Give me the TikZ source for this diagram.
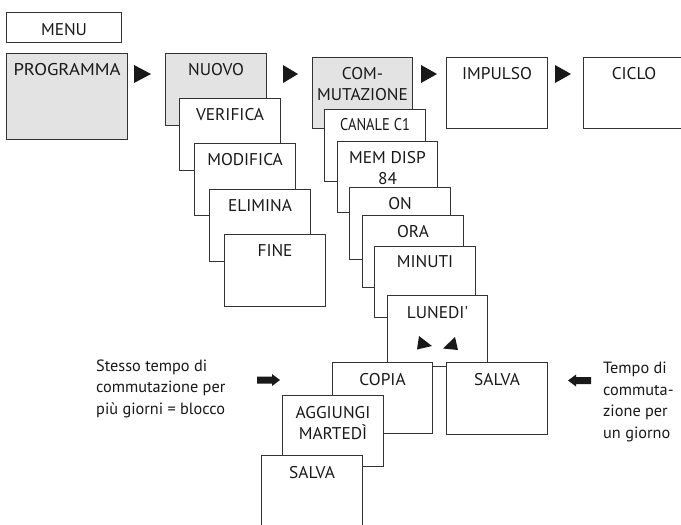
\documentclass[tikz,border=0pt]{standalone}
\usepackage{fontspec}
\setmainfont{PT Sans}
\newfontfamily\lblfont[FakeStretch=1.02]{PT Sans}
\newfontfamily\widefont[FakeStretch=1.1]{PT Sans}
\newfontfamily\condfont[FakeStretch=0.85]{PT Sans}
\usetikzlibrary{calc}
\begin{document}
\begin{tikzpicture}[x=1pt,y=-1pt,
 box/.style={draw=black!80, line width=1.1pt, fill=white, minimum width=101pt, minimum height=72pt, inner sep=0pt, anchor=north west},
 graybox/.style={box, fill=black!11},
 lbl/.style={anchor=north, inner sep=0pt, align=center, font=\lblfont\fontsize{17}{21.5}\selectfont, text=black!90},
 desc/.style={anchor=north west, inner sep=0pt, align=left, font=\fontsize{16.3}{21.6}\selectfont, text=black!90},
 tri/.style={fill=black!90},
]
\clip (0,0) rectangle (681,525);
% MENU and PROGRAMMA
\node[box, minimum width=115pt, minimum height=30pt] (menu) at (6,12) {};
\node[lbl] (tmenu) at ($(menu.north)+(0,11)$) {MENU};
\node[graybox, minimum width=121pt, minimum height=86pt] (prog) at (6,53) {};
\node[lbl, font=\widefont\fontsize{17}{21.5}\selectfont] (tprog) at ($(prog.north)+(0,10)$) {PROGRAMMA};
% NUOVO chain
\node[graybox] (nuovo) at (165,53) {};
\node[lbl] (tnuovo) at ($(nuovo.north)+(0,10)$) {NUOVO};
\node[box] (verif) at (179,98) {};
\node[lbl] (tverif) at ($(verif.north)+(0,10)$) {VERIFICA};
\node[box] (modif) at (194,143) {};
\node[lbl] (tmodif) at ($(modif.north)+(0,10.5)$) {MODIFICA};
\node[box] (elim) at (209,189) {};
\node[lbl] (telim) at ($(elim.north)+(0,10)$) {ELIMINA};
\node[box] (fine) at (224,234) {};
\node[lbl] (tfine) at ($(fine.north)+(0,10.5)$) {FINE};
% COMMUTAZIONE chain
\node[graybox, minimum width=100pt, minimum height=71pt] (comm) at (312,57) {};
\node[lbl] (tcomm) at ($(comm.north)+(0,10)$) {COM-\\MUTAZIONE};
\node[box, minimum height=71pt] (imp) at (446,57) {};
\node[lbl] (timp) at ($(imp.north)+(0,10)$) {IMPULSO};
\node[box, minimum height=71pt] (ciclo) at (583,57) {};
\node[lbl] (tciclo) at ($(ciclo.north)+(0,10)$) {CICLO};
\node[box] (canale) at (324,109) {};
\node[lbl, font=\condfont\fontsize{17}{21.5}\selectfont] (tcanale) at ($(canale.north)+(0,9.5)$) {CANALE C1};
\node[box, minimum width=100pt, minimum height=71pt] (mem) at (337,141) {};
\node[lbl] (tmem) at ($(mem.north)+(0,10)$) {MEM DISP\\84};
\node[box] (on) at (349,187) {};
\node[lbl] (ton) at ($(on.north)+(0,10)$) {ON};
\node[box] (ora) at (362,215) {};
\node[lbl] (tora) at ($(ora.north)+(0,10)$) {ORA};
\node[box, minimum height=71pt] (minuti) at (374,246) {};
\node[lbl] (tminuti) at ($(minuti.north)+(0,9.5)$) {MINUTI};
\node[box, minimum width=100pt, minimum height=71pt] (lunedi) at (387,295) {};
\node[lbl] (tlunedi) at ($(lunedi.north)+(0,11)$) {LUNEDI'};
\fill[tri] (419,336) -- (432,346) -- (417,349.5) -- cycle;
\fill[tri] (455,337) -- (458,350) -- (443,348.5) -- cycle;
\node[box, minimum width=100pt, minimum height=71pt] (copia) at (332,362) {};
\node[lbl] (tcopia) at ($(copia.north)+(0,11)$) {COPIA};
\node[box] (salva) at (446,362) {};
\node[lbl] (tsalva) at ($(salva.north)+(0,11)$) {SALVA};
\node[box, minimum height=71pt] (aggiungi) at (282,395) {};
\node[lbl] (taggiungi) at ($(aggiungi.north)+(0,11)$) {AGGIUNGI\\MARTEDÌ};
\node[box] (salvab) at (261,455) {};
\node[lbl] (tsalvab) at ($(salvab.north)+(0,11)$) {SALVA};
% triangles between top boxes
\fill[tri] (134,65) -- (151,74) -- (134,83) -- cycle;
\fill[tri] (283,65) -- (298,74) -- (283,83) -- cycle;
\fill[tri] (421,65) -- (437,74) -- (421,83) -- cycle;
\fill[tri] (555,65) -- (571,74) -- (555,83) -- cycle;
% descriptions
\node[desc] (dleft) at (96,359.5) {Stesso tempo di\\commutazione per\\più giorni = blocco};
\node[desc] (dright) at (603,362) {Tempo di\\commuta-\\zione per\\un giorno};
% block arrows
\fill[tri] (257,376.5) -- (272,376.5) -- (272,374) -- (280,380) -- (272,386) -- (272,383.5) -- (257,383.5) -- cycle;
\fill[tri] (591,377) -- (576,377) -- (576,374.5) -- (568,380.5) -- (576,386.5) -- (576,384) -- (591,384) -- cycle;
\end{tikzpicture}
\end{document}
